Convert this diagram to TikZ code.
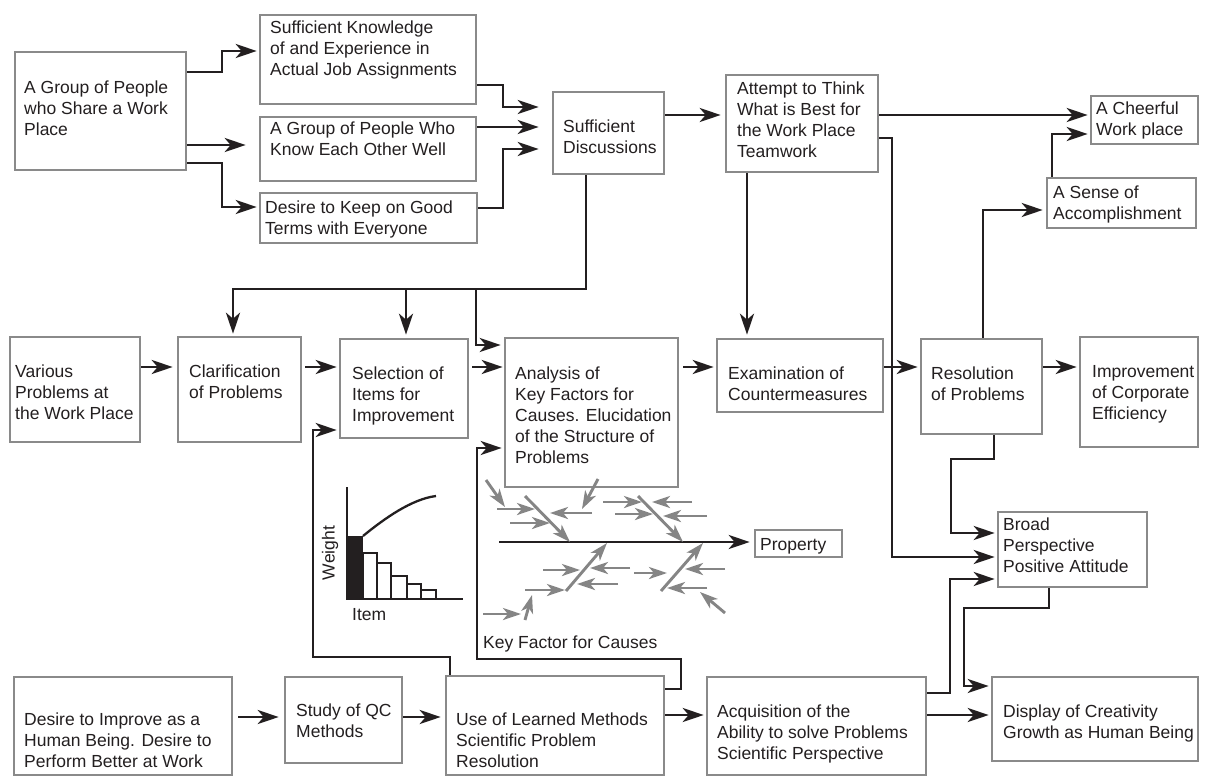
\documentclass[tikz,border=0pt]{standalone}
\usepackage{fontspec}
\setmainfont{Liberation Sans}
\usetikzlibrary{arrows.meta,fit,calc}
\definecolor{ink}{HTML}{231F20}
\definecolor{boxgray}{HTML}{8A8A8A}
\definecolor{bonegray}{HTML}{858585}
\begin{document}
\begin{tikzpicture}[x=1pt,y=-1pt,
  box/.style={draw=boxgray, line width=2.6pt, fill=white, inner sep=0pt, rectangle},
  txt/.style={anchor=base west, inner sep=0pt, align=left, text=ink, font=\fontsize{17.5}{21}\selectfont},
  conn/.style={draw=ink, line width=2.9pt, -{Stealth[length=21pt,width=14pt,inset=6pt]}},
  plain/.style={draw=ink, line width=2.9pt},
  bone/.style={draw=bonegray, line width=2.9pt, -{Stealth[length=18pt,width=12pt,inset=5pt]}},
]
\useasboundingbox (0,0) rectangle (1210,777);
\fill[white] (0,0) rectangle (1210,777);

% boxes
\node[box, fit={(15,52) (186,170)}] (grp) {};
\node[box, fit={(260,15) (476,104)}] (sk) {};
\node[box, fit={(260,117) (476,181)}] (gk) {};
\node[box, fit={(260,193) (477,243)}] (dk) {};
\node[box, fit={(553,92) (664,174)}] (sd) {};
\node[box, fit={(726,75) (878,172)}] (att) {};
\node[box, fit={(1091,96) (1198,144)}] (chf) {};
\node[box, fit={(1047,178) (1196,228)}] (sense) {};
\node[box, fit={(10,337) (140,442)}] (var) {};
\node[box, fit={(178,337) (301,442)}] (clar) {};
\node[box, fit={(340,339) (468,438)}] (sel) {};
\node[box, fit={(505,338) (678,487)}] (ana) {};
\node[box, fit={(717,339) (883,412)}] (exam) {};
\node[box, fit={(921,339) (1042,434)}] (res) {};
\node[box, fit={(1080,337) (1198,447)}] (imp) {};
\node[box, fit={(998,512) (1147,587)}] (broad) {};
\node[box, fit={(755,530) (842,557)}] (prop) {};
\node[box, fit={(14,677) (232,775)}] (des) {};
\node[box, fit={(285,677) (402,763)}] (study) {};
\node[box, fit={(446,676) (664,775)}] (use) {};
\node[box, fit={(707,677) (926,775)}] (acq) {};
\node[box, fit={(992,677) (1198,761)}] (disp) {};

% texts (base = baseline of last line)
\node[txt] (grpt) at (24,135) {A Group of People\\who Share a Work\\Place};
\node[txt] (skt) at (270,75) {Sufficient Knowledge\\of and Experience in\\Actual Job Assignments};
\node[txt] (gkt) at (270,155) {A Group of People Who\\Know Each Other Well};
\node[txt] (dkt) at (265,234) {Desire to Keep on Good\\Terms with Everyone};
\node[txt] (sdt) at (563,153) {Sufficient\\Discussions};
\node[txt] (attt) at (737,157) {Attempt to Think\\What is Best for\\the Work Place\\Teamwork};
\node[txt] (chft) at (1096,135) {A Cheerful\\Work place};
\node[txt] (senset) at (1053,219) {A Sense of\\Accomplishment};
\node[txt] (vart) at (15,419) {Various\\Problems at\\the Work Place};
\node[txt] (clart) at (189,398) {Clarification\\of Problems};
\node[txt] (selt) at (352,421) {Selection of\\Items for\\Improvement};
\node[txt] (anat) at (515,463) {Analysis of\\Key Factors for\\Causes. Elucidation\\of the Structure of\\Problems};
\node[txt] (examt) at (728,400) {Examination of\\Countermeasures};
\node[txt] (rest) at (931,400) {Resolution\\of Problems};
\node[txt] (impt) at (1092,419) {Improvement\\of Corporate\\Efficiency};
\node[txt] (broadt) at (1003,572) {Broad\\Perspective\\Positive Attitude};
\node[txt] (propt) at (760,550) {Property};
\node[txt] (dest) at (24,767) {Desire to Improve as a\\Human Being. Desire to\\Perform Better at Work};
\node[txt] (studyt) at (296,737) {Study of QC\\Methods};
\node[txt] (uset) at (456,767) {Use of Learned Methods\\Scientific Problem\\Resolution};
\node[txt] (acqt) at (717,759) {Acquisition of the\\Ability to solve Problems\\Scientific Perspective};
\node[txt] (dispt) at (1003,738) {Display of Creativity\\Growth as Human Being};
\node[txt] (keyf) at (483,648) {Key Factor for Causes};
\node[txt] (itemt) at (352,620) {Item};
\node[txt, anchor=center, rotate=90] (weightt) at (330,553) {Weight};

% top connectors
\draw[conn, shorten >=2pt] (grp.east |- 0,72) -- (222,72) -- (222,51) -- (sk.west |- 0,51);
\draw[conn, shorten >=13pt] (grp.east |- 0,145) -- (gk.west |- 0,145);
\draw[conn, shorten >=2pt] (grp.east |- 0,163) -- (222,163) -- (222,207) -- (dk.west |- 0,207);
\draw[conn, shorten >=13pt] (sk.east |- 0,85) -- (503,85) -- (503,107) -- (sd.west |- 0,107);
\draw[conn, shorten >=13pt] (gk.east |- 0,127) -- (sd.west |- 0,127);
\draw[conn, shorten >=13pt] (dk.east |- 0,208) -- (503,208) -- (503,149) -- (sd.west |- 0,149);
\draw[conn, shorten >=4pt] (sd.east |- 0,115) -- (att.west |- 0,115);
\draw[conn, shorten >=2pt] (att.east |- 0,115) -- (chf.west |- 0,115);
\draw[conn, shorten >=2pt] (sense.north -| 1052,0) -- (1052,134) -- (chf.west |- 0,134);
\draw[conn, shorten >=3pt] (res.north -| 983,0) -- (983,210) -- (sense.west |- 0,210);

% from Sufficient Discussions down
\coordinate (j1) at (406,289);
\coordinate (j2) at (476,289);
\draw[conn, shorten >=2pt] (sd.south -| 586,0) -- (586,289) -- (233,289) -- (clar.north -| 233,0);
\draw[conn, shorten >=3pt] (j1) -- (sel.north -| j1);
\draw[conn, shorten >=3pt] (j2) -- (476,345) -- (ana.west |- 0,345);

% from Attempt
\draw[conn, shorten >=3pt] (att.south -| 747,0) -- (exam.north -| 747,0);
\draw[conn, shorten >=2pt] (att.east |- 0,138) -- (892,138) -- (892,557) -- (broad.west |- 0,557);

% middle row
\draw[conn, shorten >=4pt] (var.east |- 0,367) -- (clar.west |- 0,367);
\draw[conn, shorten <=3pt, shorten >=2pt] (clar.east |- 0,367) -- (sel.west |- 0,367);
\draw[conn, shorten <=3pt, shorten >=1pt] (sel.east |- 0,367) -- (ana.west |- 0,367);
\draw[conn, shorten <=4pt, shorten >=2pt] (ana.east |- 0,367) -- (exam.west |- 0,367);
\draw[conn, shorten >=2pt] (exam.east |- 0,367) -- (res.west |- 0,367);
\draw[conn, shorten >=2pt] (res.east |- 0,367) -- (imp.west |- 0,367);
\draw[conn, shorten >=2pt] (res.south -| 994,0) -- (994,459) -- (951,459) -- (951,533) -- (broad.west |- 0,533);
\draw[conn, shorten >=2pt] (acq.east |- 0,693) -- (950,693) -- (950,579) -- (broad.west |- 0,579);
\draw[conn, shorten >=2pt] (broad.south -| 1049,0) -- (1049,608) -- (964,608) -- (964,686) -- (disp.west |- 0,686);

% bottom row
\draw[conn, shorten <=5pt, shorten >=5pt] (des.east |- 0,717) -- (study.west |- 0,717);
\draw[conn, shorten >=4pt] (study.east |- 0,717) -- (use.west |- 0,717);
\draw[conn, shorten >=2pt] (use.east |- 0,715) -- (acq.west |- 0,715);
\draw[conn, shorten >=2pt] (acq.east |- 0,715) -- (disp.west |- 0,715);
\draw[conn, shorten >=2pt] (use.north -| 450,0) -- (450,657) -- (313,657) -- (313,430) -- (sel.west |- 0,430);
\draw[conn, shorten >=2pt] (use.east |- 0,689) -- (681,689) -- (681,659) -- (477,659) -- (477,448) -- (ana.west |- 0,448);

% fishbone
\coordinate (sp) at (499,542);
\draw[conn, shorten >=4pt] (sp) -- (prop.west |- sp);
\foreach \a/\b/\c/\d in {486/480/505/507, 497/509/535/509, 510/523/550/523, 525/496/570/542,
  592/513/550/513, 598/479/582/509, 603/502/642/502, 615/514/653/514, 692/502/652/502,
  707/516/663/516, 638/496/683/542, 566/591/607/543, 543/570/580/570, 630/568/590/568,
  618/584/577/584, 525/590/565/590, 661/591/703/543, 634/573/667/573, 725/569/685/569,
  707/588/667/588, 725/613/700/592, 483/614/521/614, 525/620/532/595}
  \draw[bone] (\a,\b) -- (\c,\d);

% Pareto chart
\fill[ink] (347,536) rectangle (363,599);
\draw[ink, line width=2.5pt] (363,553) rectangle (377,599);
\draw[ink, line width=2.5pt] (377,563) rectangle (391,599);
\draw[ink, line width=2.5pt] (391,576) rectangle (407,599);
\draw[ink, line width=2.5pt] (407,584) rectangle (421,599);
\draw[ink, line width=2.5pt] (421,590) rectangle (436,599);
\draw[plain] (347,487) -- (347,599) -- (463,599);
\draw[ink, line width=2.3pt] (363,536) .. controls (385,518) and (412,499) .. (436,496);
\end{tikzpicture}
\end{document}
